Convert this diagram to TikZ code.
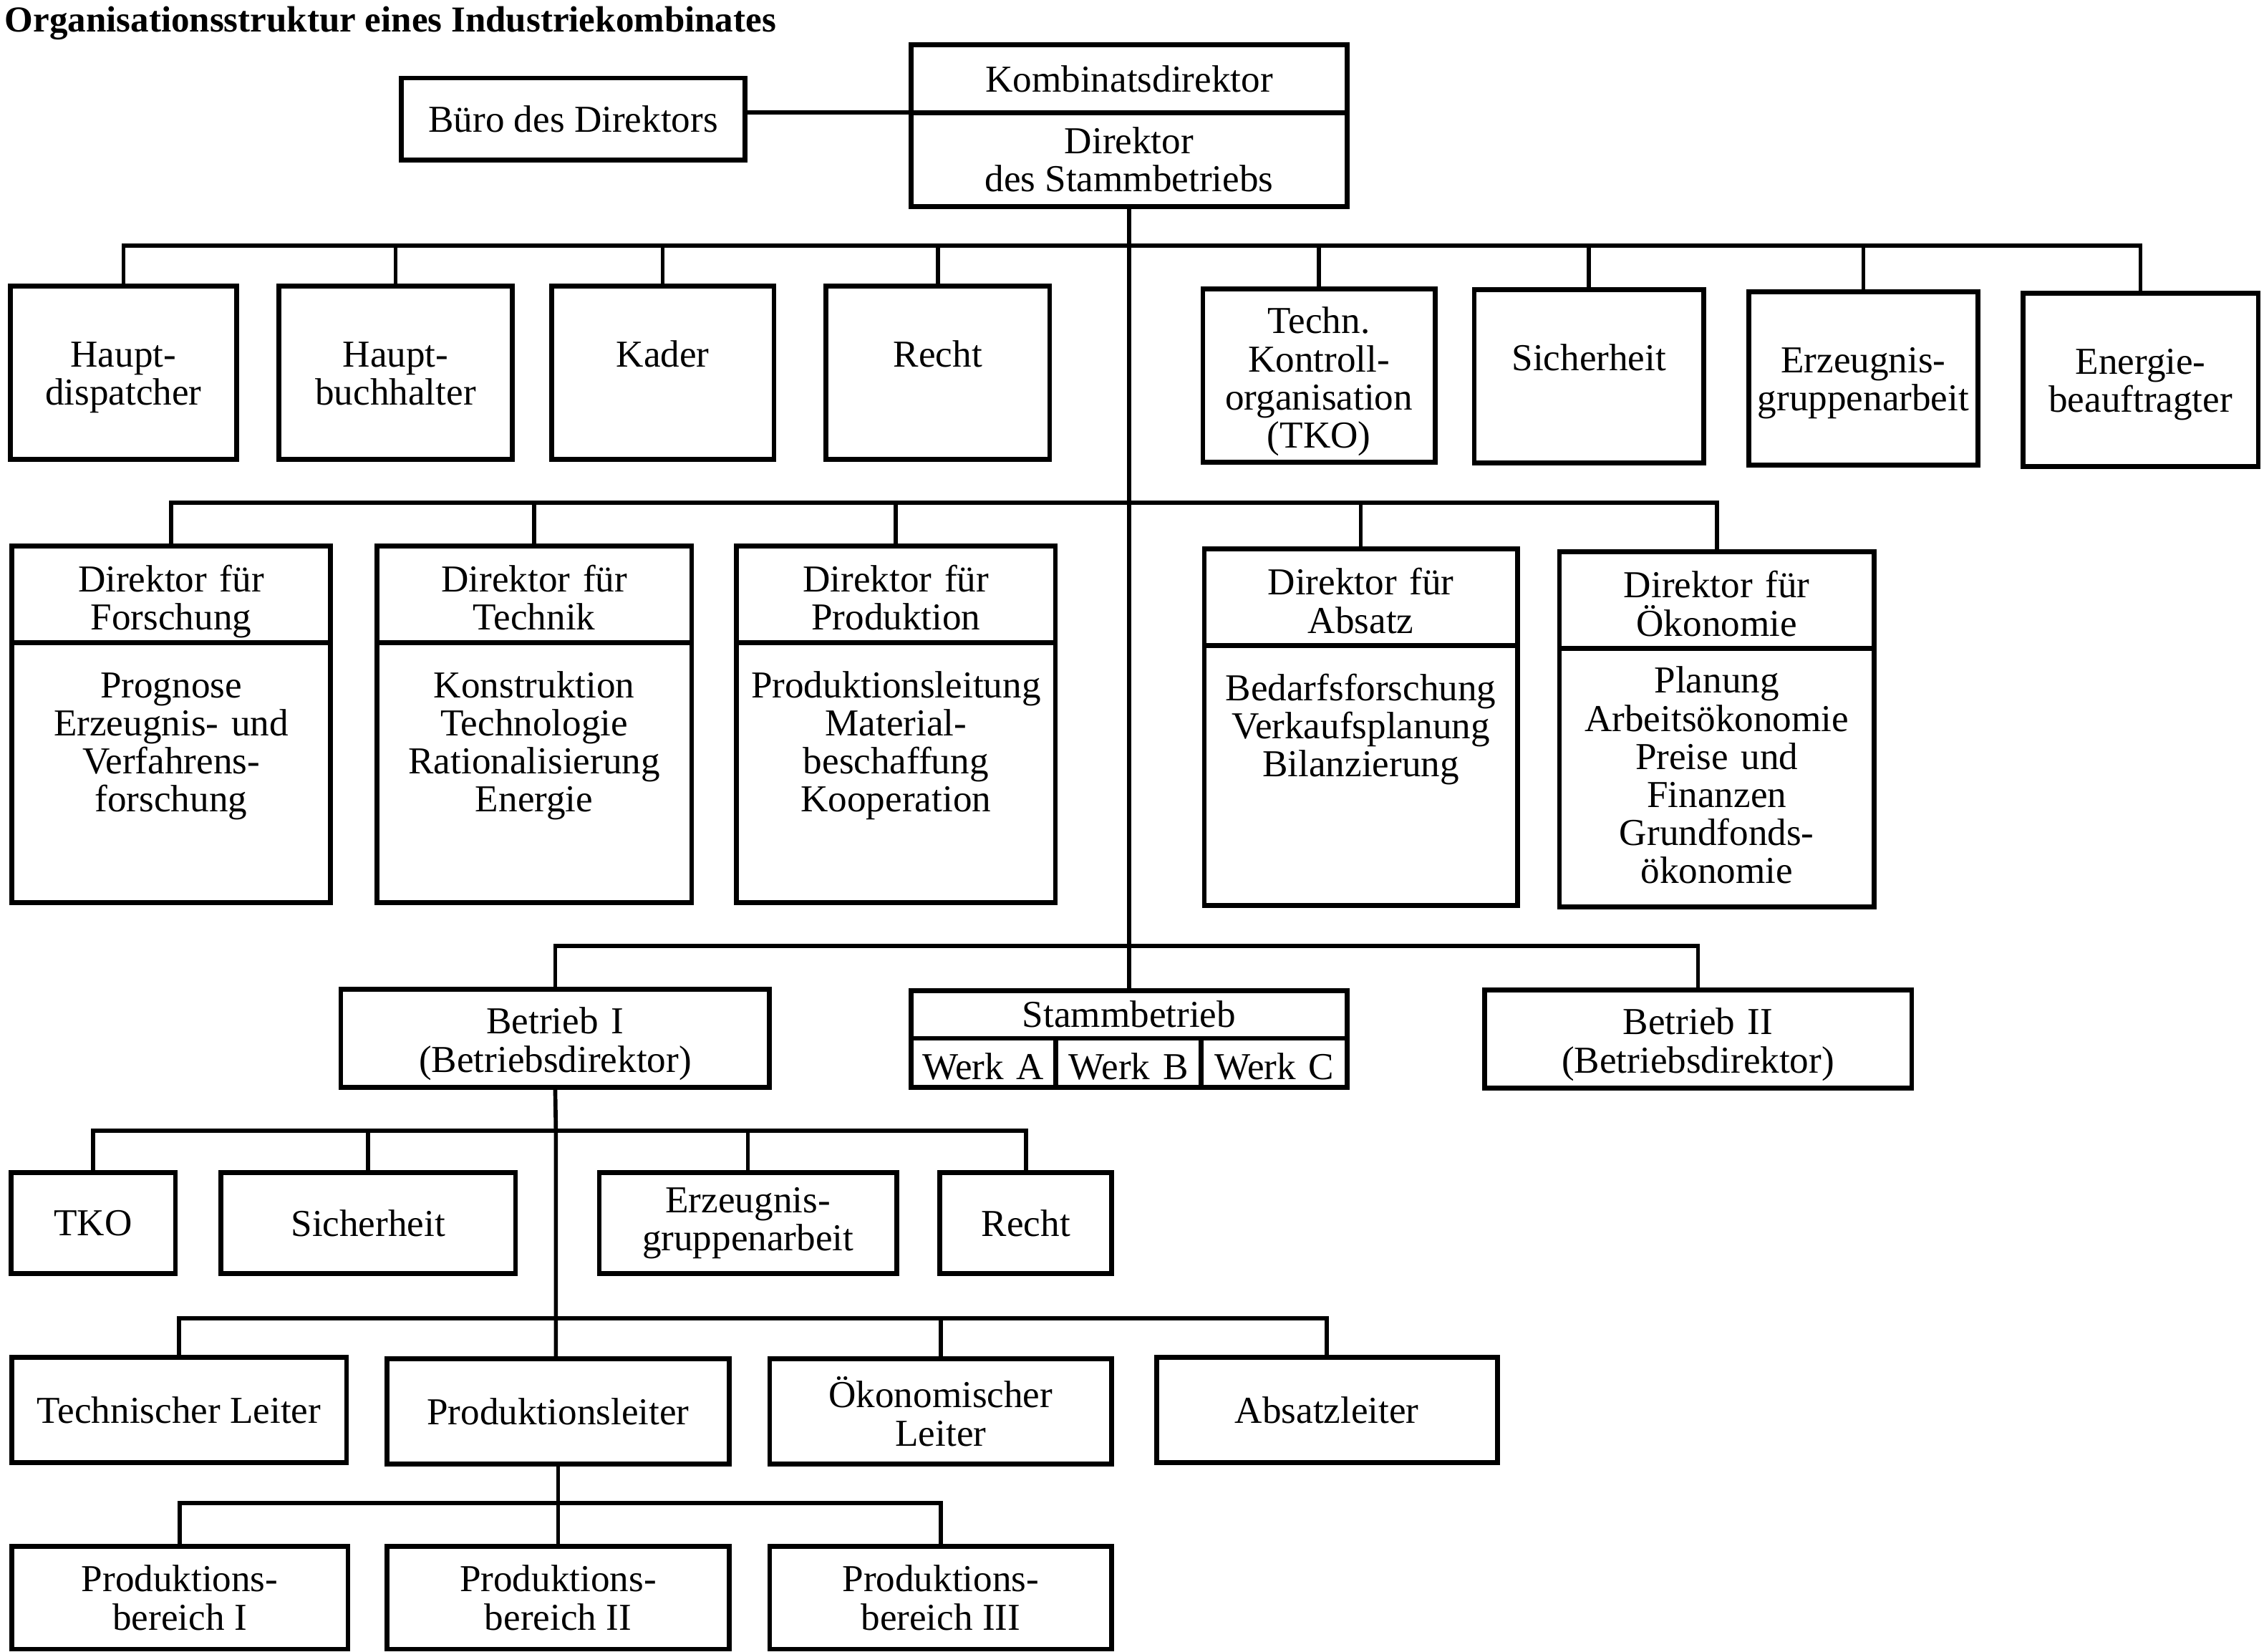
\documentclass[tikz,border=0pt]{standalone}
\usepackage{fontspec}
\setmainfont{Liberation Serif}
\usetikzlibrary{positioning}
\tikzset{
    box/.style={draw, line width=1.9pt, inner sep=0pt, outer sep=0pt, align=center},
    unit/.style={box, minimum width=#1, minimum height=1.40cm},
    staff/.style={box, text width=#1, text height=1.12cm, text depth=1.28cm},
    head/.style={box, text width=#1, text height=0.64cm, text depth=0.70cm},
    body/.style={box, text width=#1, text height=0.76cm, text depth=2.84cm},
    plant/.style={box, text width=#1, text height=0.62cm, text depth=0.74cm},
    werk/.style={box, text width=#1, text height=0.57cm, text depth=0.11cm},
    link/.style={line width=1.6pt}
  }

\begin{document}
\begin{tikzpicture}[x=0.02cm, y=-0.02cm,
                    font=\fontsize{15pt}{15pt}\selectfont]
 \useasboundingbox (0,0) rectangle (1568,1144);
 % title
     \node[anchor=base west, inner sep=0pt,
           font=\bfseries\fontsize{14.4pt}{14.4pt}\selectfont] (titel) at (3,22)
           {Organisationsstruktur eines Industriekombinates};
 % top
     \node[box, minimum width=6.04cm, minimum height=0.94cm] (kd) at (782,54.5) {Kombinatsdirektor};
     \node[box, minimum width=6.04cm, minimum height=1.30cm, below=0pt of kd] (dsb) {Direktor\\des Stammbetriebs};
     \node[box, minimum width=4.76cm, minimum height=1.14cm] (buero) at (397,82.5) {Büro des Direktors};
     \draw[link] (buero.east |- kd.south) -- (kd.south west);
 % staff row
     \node[staff=3.14cm] (hd) at (85.5,258) {Haupt-\\dispatcher};
     \node[staff=3.24cm] (hb) at (274,258) {Haupt-\\buchhalter};
     \node[staff=3.08cm] (kader) at (459,258) {Kader};
     \node[staff=3.10cm] (recht) at (649.5,258) {Recht};
     \node[staff=3.22cm, text height=0.62cm, text depth=1.78cm] (tko) at (913.5,260) {Techn.\\Kontroll-\\organisation\\(TKO)};
     \node[staff=3.18cm] (sich) at (1100.5,260.5) {Sicherheit};
     \node[staff=3.18cm] (erz) at (1290.5,262) {Erzeugnis-\\gruppenarbeit};
     \node[staff=3.26cm] (energ) at (1482.5,263) {Energie-\\beauftragter};
     \coordinate (bus1) at (782,170);
     \foreach \n in {hd,hb,kader,recht,tko,sich,erz,energ}
         \draw[link] (\n.north) |- (bus1);
 % directors
     \node[head=4.42cm] (fo) at (118.5,411.5) {Direktor für\\Forschung};
     \node[body=4.42cm, below=0pt of fo] (foB) {Prognose\\Erzeugnis- und\\Verfahrens-\\forschung};
     \node[head=4.36cm] (te) at (370,411.5) {Direktor für\\Technik};
     \node[body=4.36cm, below=0pt of te] (teB) {Konstruktion\\Technologie\\Rationalisierung\\Energie};
     \node[head=4.42cm] (pr) at (620.5,411.5) {Direktor für\\Produktion};
     \node[body=4.42cm, below=0pt of pr] (prB) {Produktionsleitung\\Material-\\beschaffung\\Kooperation};
     \node[head=4.34cm] (ab) at (942.5,413.5) {Direktor für\\Absatz};
     \node[body=4.34cm, below=0pt of ab] (abB) {Bedarfsforschung\\Verkaufsplanung\\Bilanzierung};
     \node[head=4.36cm] (oe) at (1189,415.5) {Direktor für\\Ökonomie};
     \node[body=4.36cm, text height=0.62cm, text depth=2.96cm, below=0pt of oe] (oeB) {Planung\\Arbeitsökonomie\\Preise und\\Finanzen\\Grundfonds-\\ökonomie};
     \coordinate (bus2) at (782,348);
     \foreach \n in {fo,te,pr,ab,oe}
         \draw[link] (\n.north) |- (bus2);
 % plants
     \node[plant=5.94cm] (b1) at (384.5,719) {Betrieb I\\(Betriebsdirektor)};
     \node[box, minimum width=6.04cm, minimum height=0.66cm] (stamm) at (782,702.5) {Stammbetrieb};
     \node[werk=2.00cm, anchor=north west] (werkA) at (stamm.south west) {Werk A};
     \node[werk=2.02cm, right=0pt of werkA] (werkB) {Werk B};
     \node[werk=2.02cm, right=0pt of werkB] (werkC) {Werk C};
     \node[plant=5.92cm] (b2) at (1176,719.5) {Betrieb II\\(Betriebsdirektor)};
     \coordinate (bus3) at (782,655);
     \foreach \n in {b1,b2}
         \draw[link] (\n.north) |- (bus3);
     \draw[link] (dsb.south) -- (stamm.north);
 % Betrieb I staff
     \node[unit=2.28cm] (tko2) at (64.5,847) {TKO};
     \node[unit=4.08cm] (sich2) at (255,847) {Sicherheit};
     \node[unit=4.12cm] (erz2) at (518,847) {Erzeugnis-\\gruppenarbeit};
     \node[unit=2.38cm] (recht2) at (710.5,847) {Recht};
     \coordinate (bus4) at (385,783);
     \foreach \n in {tko2,sich2,erz2,recht2}
         \draw[link] (\n.north) |- (bus4);
 % leaders
     \node[box, minimum width=4.64cm, minimum height=1.46cm] (techl) at (124,976.5) {Technischer Leiter};
     \node[box, minimum width=4.74cm, minimum height=1.46cm] (prodl) at (386.5,977.5) {Produktionsleiter};
     \node[box, minimum width=4.74cm, minimum height=1.46cm] (oekl) at (651.5,977.5) {Ökonomischer\\Leiter};
     \node[box, minimum width=4.72cm, minimum height=1.46cm] (absl) at (919,976.5) {Absatzleiter};
     \coordinate (bus5) at (385,913);
     \draw[link] (b1.south) -- (bus4) -- (bus5) -- (bus5 |- prodl.north);
     \foreach \n in {techl,oekl,absl}
         \draw[link] (\n.north) |- (bus5);
 % production areas
     \node[box, minimum width=4.66cm, minimum height=1.42cm] (pb1) at (124.5,1106.5) {Produktions-\\bereich I};
     \node[box, minimum width=4.74cm, minimum height=1.42cm] (pb2) at (386.5,1106.5) {Produktions-\\bereich II};
     \node[box, minimum width=4.74cm, minimum height=1.42cm] (pb3) at (651.5,1106.5) {Produktions-\\bereich III};
     \coordinate (bus6) at (386.5,1041);
     \draw[link] (prodl.south) -- (pb2.north);
     \foreach \n in {pb1,pb3}
         \draw[link] (\n.north) |- (bus6);
\end{tikzpicture}
\end{document}
